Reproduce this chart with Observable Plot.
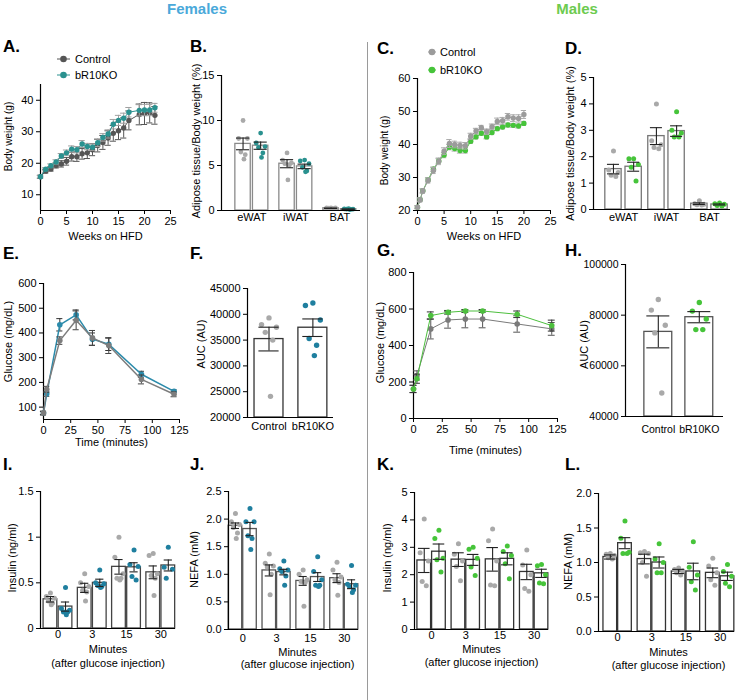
<!DOCTYPE html>
<html><head><meta charset="utf-8">
<script src="https://cdn.jsdelivr.net/npm/d3@7"></script>
<script src="https://cdn.jsdelivr.net/npm/@observablehq/plot@0.6"></script>
<style>
body{margin:0;background:#fff;font-family:'Liberation Sans',Arial,Helvetica,sans-serif;}
#fig{position:relative;width:740px;height:700px;overflow:hidden;background:#fff;}
.t{position:absolute;white-space:nowrap;color:#000;}
</style></head>
<body><div id="fig"></div>
<script>
// ---------------- DATA ----------------
// A. Females body weight
const weeksA = [0,1,2,3,4,5,6,7,8,9,10,11,12,13,14,15,16,17,19,20,21,22];
const ctrlA = [15.7,17.5,18.2,19.3,19.8,20.6,22.1,22.1,23.0,23.3,24.3,25.6,26.6,28.0,29.5,30.3,31.2,33.6,35.5,35.8,36.0,35.2];
const ctrlA_sem = [0.5,0.6,0.7,0.8,1.0,1.2,1.4,1.5,1.7,1.8,1.9,2.0,2.2,2.3,2.5,2.8,3.2,3.0,3.3,3.5,3.2,2.8];
const koA = [15.7,18.1,19.2,20.4,22.3,23.3,24.5,24.3,26.1,25.3,25.1,26.5,28.2,29.3,32.4,33.6,34.3,36.2,36.8,36.9,36.9,37.6];
const koA_sem = [0.4,0.5,0.6,0.7,0.8,0.9,1.0,1.0,1.1,1.0,1.0,1.2,1.2,1.3,1.5,1.6,1.6,1.5,1.8,1.8,1.8,1.4];

// C. Males body weight
const weeksC = [0,0.5,1,2,3,4,5,6,7,8,9,10,11,12,13,14,15,16,17,18,19,20];
const ctrlC = [21.0,23.2,25.9,29.1,32.1,34.9,38.0,40.3,40.0,39.7,39.6,42.5,44.1,45.1,43.9,45.4,47.0,47.2,48.4,48.0,47.9,49.1];
const ctrlC_sem = [0.5,0.6,0.7,0.8,0.9,1.0,1.0,1.2,1.0,1.0,1.0,0.9,0.8,0.7,0.8,0.8,1.0,1.0,1.0,1.0,1.1,1.2];
const koC = [21.0,23.3,26.0,29.3,32.5,35.0,36.8,39.2,38.8,38.2,38.2,41.0,42.3,43.4,42.3,43.6,44.8,45.3,45.9,45.8,45.6,46.4];
const koC_sem = [0.4,0.5,0.5,0.6,0.7,0.7,0.8,0.8,0.8,0.8,0.8,0.7,0.6,0.6,0.6,0.6,0.6,0.6,0.6,0.6,0.6,0.6];

// B. Females adipose tissue
const tissues = ["eWAT","iWAT","BAT"];
const ctrlB = [7.4,5.2,0.25], ctrlB_sem = [0.65,0.45,0.02];
const ctrlB_pts = [[10.0,8.0,8.0,6.5,6.2,5.7],[6.4,5.6,5.3,5.2,5.0,3.4],[0.3,0.3,0.28,0.25,0.2,0.2]];
const koB = [7.2,4.9,0.15], koB_sem = [0.4,0.25,0.02];
const koB_pts = [[8.6,7.5,7.1,7.0,6.4,5.9],[5.6,5.5,5.2,4.8,4.4,4.3],[0.2,0.18,0.15,0.15,0.12,0.1]];

// D. Males adipose tissue
const ctrlD = [1.53,2.78,0.22], ctrlD_sem = [0.18,0.32,0.03];
const ctrlD_pts = [[2.22,1.5,1.4,1.3,1.25],[4.0,2.6,2.45,2.35,2.3],[0.33,0.22,0.2,0.18,0.17]];
const koD = [1.62,2.97,0.19], koD_sem = [0.17,0.2,0.02];
const koD_pts = [[1.92,1.92,1.7,1.6,1.08],[3.7,3.0,2.9,2.75,2.75],[0.25,0.22,0.2,0.15,0.13]];

// E. Females GTT
const timeE = [0,3,15,30,45,60,90,120];
const ctrlE = [76,172,369,451,380,349,212,152];
const ctrlE_sem = [8,12,15,38,30,32,18,10];
const koE = [76,154,433,473,375,354,233,164];
const koE_sem = [6,10,25,20,25,25,12,6];

// G. Males GTT
const timeG = [0,3,15,30,45,60,90,120];
const ctrlG = [162,236,491,540,545,545,518,491];
const ctrlG_sem = [20,25,55,45,48,48,45,35];
const koG = [162,218,564,582,589,589,571,509];
const koG_sem = [20,25,20,10,8,8,18,30];

// F / H. AUC
const genotypes = ["Control","bR10KO"];
const aucF = [35200,37400], aucF_sem = [2300,1700];
const aucF_pts = [[39300,38000,37500,36500,35000,24100],[42200,41700,38900,35300,34000,32000]];
const aucH = [73400,79200], aucH_sem = [6300,2200];
const aucH_pts = [[86200,82000,76000,73000,49300],[85000,81600,78500,74300,74300]];

// I-L. Insulin / NEFA after glucose injection
const minutes = ["0","3","15","30"];
const ctrlI = [0.32,0.445,0.675,0.615], ctrlI_sem = [0.03,0.05,0.08,0.07];
const ctrlI_pts = [[0.39,0.35,0.33,0.30,0.28,0.26],[0.6,0.5,0.46,0.42,0.4,0.3],[1.0,0.78,0.6,0.55,0.55,0.53],[0.82,0.8,0.6,0.58,0.55,0.36]];
const koI = [0.24,0.5,0.67,0.69], koI_sem = [0.05,0.04,0.05,0.06];
const koI_pts = [[0.45,0.22,0.2,0.18,0.18,0.15],[0.64,0.5,0.49,0.47,0.46,0.45],[0.86,0.7,0.68,0.57,0.53],[0.89,0.67,0.65,0.55]];

const ctrlJ = [1.88,1.07,0.88,0.93], ctrlJ_sem = [0.05,0.1,0.08,0.08];
const ctrlJ_pts = [[2.1,1.95,1.9,1.85,1.75,1.65],[1.37,1.2,1.15,1.13,1.0,0.63],[1.08,1.0,0.9,0.87,0.85,0.42],[1.22,1.08,0.95,0.9,0.85,0.62]];
const koJ = [1.82,1.04,0.95,0.82], koJ_sem = [0.12,0.05,0.08,0.08];
const koJ_pts = [[2.19,1.95,1.95,1.7,1.65,1.45],[1.24,1.1,1.08,1.05,0.97,0.8],[1.32,1.05,0.9,0.8,0.8,0.78],[1.16,0.82,0.8,0.78,0.72,0.67]];

const ctrlK = [2.52,2.55,2.56,2.1], ctrlK_sem = [0.44,0.25,0.43,0.28];
const ctrlK_pts = [[4.03,2.8,2.5,1.75,1.6],[3.13,2.75,2.5,2.3,1.78],[3.67,3.24,2.5,1.62,1.6],[2.9,2.35,2.0,1.5,1.4]];
const koK = [2.84,2.54,2.58,2.05], koK_sem = [0.28,0.2,0.22,0.15];
const koK_pts = [[3.62,3.32,2.6,2.55,2.1],[3.0,2.93,2.6,2.28,1.97],[3.05,2.85,2.7,2.4,1.85],[2.37,2.33,2.0,1.7,1.67]];

const ctrlL = [1.08,1.05,0.87,0.85], ctrlL_sem = [0.03,0.07,0.03,0.07];
const ctrlL_pts = [[1.13,1.12,1.1,1.07,1.05],[1.16,1.14,1.13,1.0,0.8],[0.92,0.9,0.88,0.85,0.82],[1.06,0.95,0.85,0.75,0.67]];
const koL = [1.28,1.0,0.87,0.8], koL_sem = [0.08,0.08,0.12,0.06];
const koL_pts = [[1.6,1.35,1.15,1.13,1.13],[1.27,1.05,1.0,0.85,0.85],[1.3,0.93,0.82,0.72,0.6],[0.97,0.87,0.8,0.7,0.65]];

// ---------------- HELPERS ----------------
const FONT = "'Liberation Sans', Arial, Helvetica, sans-serif";
const fig = document.getElementById("fig");
const JIT = [0, -1, 1, -0.5, 0.5, 0.2];

function mount(svg, left, top) {
  svg.style.position = "absolute";
  svg.style.left = left + "px";
  svg.style.top = top + "px";
  svg.style.overflow = "visible";
  svg.style.background = "transparent";
  svg.style.maxWidth = "none";
  fig.appendChild(svg);
}
function addText(txt, x, y, o = {}) {
  const d = document.createElement("div");
  d.className = "t";
  const fs = o.size || 11, lh = Math.round(fs * 1.1);
  d.textContent = txt;
  d.style.fontSize = fs + "px";
  d.style.lineHeight = lh + "px";
  d.style.top = (y - lh / 2) + "px";
  d.style.left = x + "px";
  if (o.bold) d.style.fontWeight = "bold";
  if (o.color) d.style.color = o.color;
  if (o.center) d.style.transform = "translateX(-50%)";
  fig.appendChild(d);
}
function legendItem(x0, x1, cx, y, color, label, tx) {
  const ns = "http://www.w3.org/2000/svg";
  const s = document.createElementNS(ns, "svg");
  s.setAttribute("width", 20); s.setAttribute("height", 10);
  s.style.position = "absolute"; s.style.left = (x0 - 2) + "px"; s.style.top = (y - 5) + "px";
  const l = document.createElementNS(ns, "line");
  l.setAttribute("x1", 2); l.setAttribute("x2", 2 + x1 - x0); l.setAttribute("y1", 5); l.setAttribute("y2", 5);
  l.setAttribute("stroke", color); l.setAttribute("stroke-width", 1);
  const c = document.createElementNS(ns, "circle");
  c.setAttribute("cx", 2 + cx - x0); c.setAttribute("cy", 5); c.setAttribute("r", 3.3); c.setAttribute("fill", color);
  s.appendChild(l); s.appendChild(c); fig.appendChild(s);
  addText(label, tx, y);
}
function labelMarks(cfg) {
  const m = [];
  if (cfg.yLabel) m.push(Plot.text([cfg.yLabel], {frameAnchor: "left", rotate: -90, dx: -cfg.yOff, dy: cfg.yDy || 0,
    text: d => d, fontSize: cfg.yFs || 11, textAnchor: "middle", lineAnchor: "middle"}));
  (cfg.xLabels || []).forEach(([t, off]) => m.push(Plot.text([t], {frameAnchor: "bottom", dy: off, dx: cfg.xDx || 0,
    text: d => d, fontSize: 11, textAnchor: "middle", lineAnchor: "middle"})));
  return m;
}
function makePlot(cfg, marks, ml, mr, mt, mb) {
  const f = cfg.frame;
  const W = ml + (f.R - f.L) + mr, H = mt + (f.B - f.T) + mb;
  const svg = Plot.plot({
    width: W, height: H, marginLeft: ml, marginRight: mr, marginTop: mt, marginBottom: mb,
    x: {domain: cfg.xDomain}, y: {domain: cfg.yDomain},
    style: {fontFamily: FONT, fontSize: "11px", color: "#000", background: "transparent", overflow: "visible"},
    marks
  });
  mount(svg, f.L - ml, f.T - mt);
}
function linePanel(cfg) {
  const marks = [
    Plot.ruleX([cfg.xDomain[0]], {stroke: "#000", strokeWidth: 1.2}),
    Plot.ruleY([cfg.yDomain[0]], {stroke: "#000", strokeWidth: 1.2})
  ];
  for (const s of cfg.series) {
    const rows = s.x.map((x, i) => ({x, m: s.mean[i], e: s.sem[i]}));
    marks.push(Plot.ruleX(rows, {x: "x", y1: d => d.m - d.e, y2: d => d.m + d.e, stroke: s.err, strokeWidth: 1}));
    marks.push(Plot.ruleY(rows, {y: d => d.m + d.e, x1: d => d.x - cfg.cap, x2: d => d.x + cfg.cap, stroke: s.err, strokeWidth: 1}));
    marks.push(Plot.ruleY(rows, {y: d => d.m - d.e, x1: d => d.x - cfg.cap, x2: d => d.x + cfg.cap, stroke: s.err, strokeWidth: 1}));
    marks.push(Plot.line(rows, {x: "x", y: "m", stroke: s.color, strokeWidth: s.lw || 1}));
    marks.push(Plot.dot(rows, {x: "x", y: "m", fill: s.color, r: cfg.r}));
  }
  marks.push(Plot.axisY(cfg.yTicks, {tickSize: 4, tickPadding: 3, tickFormat: cfg.yFmt || d3.format("d"), label: null}));
  marks.push(Plot.axisX(cfg.xTicks, {tickSize: 4, tickPadding: 3, tickFormat: d3.format("d"), label: null}));
  marks.push(...labelMarks(cfg));
  makePlot(cfg, marks, 50, 10, 8, 45);
}
function pairBars(n, cm, cs, cp, km, ks, kp, cdot, kdot) {
  const out = [];
  for (let i = 0; i < n; i++) {
    out.push({c: i, side: -1, m: cm[i], e: cs[i], pts: cp[i], dot: cdot});
    out.push({c: i, side: 1, m: km[i], e: ks[i], pts: kp[i], dot: kdot});
  }
  return out;
}
function barPanel(cfg) {
  const y0 = cfg.yDomain[0];
  const bars = cfg.bars.map(b => ({...b, cx: b.c + b.side * cfg.off}));
  const marks = [
    Plot.rect(bars, {x1: d => d.cx - cfg.hw, x2: d => d.cx + cfg.hw, y1: () => y0, y2: "m",
      fill: "white", stroke: cfg.barStroke, strokeWidth: 1.3})
  ];
  for (const b of bars) {
    const pts = b.pts.map((v, k) => ({x: b.cx + JIT[k % JIT.length] * cfg.spread, v}));
    marks.push(Plot.dot(pts, {x: "x", y: "v", fill: b.dot, r: cfg.r || 2.5}));
  }
  const ec = "#222";
  marks.push(Plot.ruleX(bars, {x: "cx", y1: d => d.m - d.e, y2: d => d.m + d.e, stroke: ec, strokeWidth: 1.1}));
  marks.push(Plot.ruleY(bars, {y: d => d.m + d.e, x1: d => d.cx - cfg.cap, x2: d => d.cx + cfg.cap, stroke: ec, strokeWidth: 1.1}));
  marks.push(Plot.ruleY(bars, {y: d => d.m - d.e, x1: d => d.cx - cfg.cap, x2: d => d.cx + cfg.cap, stroke: ec, strokeWidth: 1.1}));
  marks.push(Plot.ruleX([cfg.xDomain[0]], {stroke: "#000", strokeWidth: 1.2}));
  marks.push(Plot.ruleY([y0], {stroke: "#000", strokeWidth: 1.2}));
  const fs = cfg.tickFs || 11;
  marks.push(Plot.axisY(cfg.yTicks, {tickSize: 4, tickPadding: 3, tickFormat: cfg.yFmt || d3.format("d"), label: null, fontSize: fs}));
  marks.push(Plot.axisX(d3.range(cfg.cats.length), {tickSize: 0, tickPadding: cfg.xPad, tickFormat: i => cfg.cats[i], label: null, fontSize: fs}));
  marks.push(...labelMarks(cfg));
  makePlot(cfg, marks, 60, 8, 8, 50);
}

// ---------------- TEXT / DECOR ----------------
addText("Females", 197, 8, {size: 15, bold: true, color: "#4aa9da", center: true});
addText("Males", 577, 8, {size: 15, bold: true, color: "#6dcb4f", center: true});
const divider = document.createElement("div");
divider.style.cssText = "position:absolute;left:367px;top:42px;width:1px;height:660px;background:#9a9a9a;";
fig.appendChild(divider);

const letters = [["A.",3,46],["B.",190,46],["C.",377,48],["D.",565,48],["E.",3,253],["F.",190,253],
                 ["G.",377,250],["H.",565,250],["I.",3,464],["J.",190,464],["K.",377,464],["L.",565,464]];
letters.forEach(([t, x, y]) => addText(t, x, y, {size: 17, bold: true}));

const F_CTRL = "#a9a9a9", F_KO_TEAL = "#2a918f", F_KO_BLUE = "#1f7f9f", M_KO = "#46c43a";

// ---------------- PANELS ----------------
// A
linePanel({
  frame: {L: 40, R: 170, T: 84, B: 210}, xDomain: [0, 25], yDomain: [5, 45],
  xTicks: [0,5,10,15,20,25], yTicks: [10,20,30,40], cap: 0.6, r: 2.7,
  yLabel: "Body weight (g)", yFs: 10, yOff: 32, yDy: -11, xLabels: [["Weeks on HFD", 26]],
  series: [
    {x: weeksA, mean: ctrlA, sem: ctrlA_sem, color: "#555555", err: "#555555"},
    {x: weeksA, mean: koA, sem: koA_sem, color: F_KO_TEAL, err: "#a0a0a0"}
  ]
});
legendItem(57, 70, 63.5, 59, "#555555", "Control", 75);
legendItem(57, 70, 63.5, 75, F_KO_TEAL, "bR10KO", 75);

// C
linePanel({
  frame: {L: 417, R: 550, T: 78, B: 210}, xDomain: [0, 25], yDomain: [20, 60],
  xTicks: [0,5,10,15,20,25], yTicks: [20,30,40,50,60], cap: 0.5, r: 2.7,
  yLabel: "Body weight (g)", yFs: 10, yOff: 33, yDy: 6, xLabels: [["Weeks on HFD", 26]],
  series: [
    {x: weeksC, mean: koC, sem: koC_sem, color: M_KO, err: "#aaaaaa"},
    {x: weeksC, mean: ctrlC, sem: ctrlC_sem, color: "#9b9b9b", err: "#aaaaaa"}
  ]
});
legendItem(428, 436, 432, 52, "#9b9b9b", "Control", 440);
legendItem(428, 436, 432, 70, M_KO, "bR10KO", 440);

// B
barPanel({
  frame: {L: 221, R: 360, T: 75, B: 210}, xDomain: [-0.69, 2.47], yDomain: [0, 15],
  cats: tissues, yTicks: [0,5,10,15], off: 0.2, hw: 0.175, spread: 0.1, cap: 0.15, r: 2.4, xPad: 3,
  barStroke: "#8a8a8a", yLabel: "Adipose tissue/Body weight (%)", yOff: 25, yDy: -2,
  bars: pairBars(3, ctrlB, ctrlB_sem, ctrlB_pts, koB, koB_sem, koB_pts, F_CTRL, F_KO_TEAL)
});

// D
barPanel({
  frame: {L: 593, R: 730, T: 77, B: 209}, xDomain: [-0.7, 2.49], yDomain: [0, 5],
  cats: tissues, yTicks: [0,1,2,3,4,5], off: 0.235, hw: 0.19, spread: 0.11, cap: 0.14, r: 2.5, xPad: 4,
  barStroke: "#777777", yLabel: "Adipose tissue/Body weight (%)", yOff: 23, yDy: 0,
  bars: pairBars(3, ctrlD, ctrlD_sem, ctrlD_pts, koD, koD_sem, koD_pts, F_CTRL, M_KO)
});

// E
linePanel({
  frame: {L: 43, R: 179, T: 283, B: 419}, xDomain: [0, 125], yDomain: [50, 600],
  xTicks: [0,25,50,75,100,125], yTicks: [100,200,300,400,500,600], cap: 2.8, r: 2.8,
  yLabel: "Glucose (mg/dL)", yOff: 35, yDy: -10, xLabels: [["Time (minutes)", 23]],
  series: [
    {x: timeE, mean: koE, sem: koE_sem, color: "#2b8bab", err: "#333333", lw: 1.5},
    {x: timeE, mean: ctrlE, sem: ctrlE_sem, color: "#7d7d7d", err: "#444444", lw: 1.5}
  ]
});

// F
barPanel({
  frame: {L: 247, R: 333, T: 288, B: 417}, xDomain: [-0.49, 1.47], yDomain: [20000, 45000],
  cats: genotypes, yTicks: [20000,25000,30000,35000,40000,45000], off: 0, hw: 0.33, spread: 0.17, cap: 0.23, r: 2.7, xPad: 5,
  barStroke: "#333333", yLabel: "AUC (AU)", yOff: 46, yDy: -9,
  bars: [{c: 0, side: 0, m: aucF[0], e: aucF_sem[0], pts: aucF_pts[0], dot: F_CTRL},
         {c: 1, side: 0, m: aucF[1], e: aucF_sem[1], pts: aucF_pts[1], dot: F_KO_BLUE}]
});

// G
linePanel({
  frame: {L: 413, R: 557, T: 272, B: 418}, xDomain: [0, 125], yDomain: [0, 800],
  xTicks: [0,25,50,75,100,125], yTicks: [0,200,400,600,800], cap: 3, r: 2.8,
  yLabel: "Glucose (mg/dL)", yOff: 33, yDy: -3, xLabels: [["Time (minutes)", 32]],
  series: [
    {x: timeG, mean: ctrlG, sem: ctrlG_sem, color: "#7a7a7a", err: "#555555"},
    {x: timeG, mean: koG, sem: koG_sem, color: "#4dbf3e", err: "#333333"}
  ]
});

// H
barPanel({
  frame: {L: 625, R: 723, T: 264, B: 416}, xDomain: [-0.8, 1.59], yDomain: [40000, 100000],
  cats: genotypes, yTicks: [40000,60000,80000,100000], off: 0, hw: 0.34, spread: 0.17, cap: 0.28, r: 2.7, xPad: 9,
  tickFs: 10.5, barStroke: "#555555", yLabel: "AUC (AU)", yOff: 41, yDy: 4,
  bars: [{c: 0, side: 0, m: aucH[0], e: aucH_sem[0], pts: aucH_pts[0], dot: F_CTRL},
         {c: 1, side: 0, m: aucH[1], e: aucH_sem[1], pts: aucH_pts[1], dot: M_KO}]
});

// I
barPanel({
  frame: {L: 40, R: 175, T: 491, B: 628}, xDomain: [-0.51, 3.43], yDomain: [0, 1.5],
  cats: minutes, yTicks: [0,0.5,1,1.5], yFmt: d => String(d), off: 0.22, hw: 0.2, spread: 0.12, cap: 0.12, r: 2.5, xPad: 2,
  barStroke: "#444444", yLabel: "Insulin (ng/ml)", yOff: 28, yDy: -2,
  xLabels: [["Minutes", 21], ["(after glucose injection)", 35]],
  bars: pairBars(4, ctrlI, ctrlI_sem, ctrlI_pts, koI, koI_sem, koI_pts, F_CTRL, F_KO_BLUE)
});

// J
barPanel({
  frame: {L: 228, R: 358, T: 491, B: 629}, xDomain: [-0.42, 3.42], yDomain: [0, 2.5],
  cats: minutes, yTicks: [0,0.5,1,1.5,2,2.5], yFmt: d3.format(".1f"), off: 0.215, hw: 0.2, spread: 0.12, cap: 0.12, r: 2.5, xPad: 5,
  barStroke: "#555555", yLabel: "NEFA (mM)", yOff: 34, yDy: -1, xDx: 4,
  xLabels: [["Minutes", 23], ["(after glucose injection)", 35]],
  bars: pairBars(4, ctrlJ, ctrlJ_sem, ctrlJ_pts, koJ, koJ_sem, koJ_pts, F_CTRL, F_KO_BLUE)
});

// K
barPanel({
  frame: {L: 414, R: 548, T: 492, B: 629}, xDomain: [-0.5, 3.42], yDomain: [0, 5],
  cats: minutes, yTicks: [0,1,2,3,4,5], off: 0.215, hw: 0.2, spread: 0.12, cap: 0.17, r: 2.5, xPad: 2,
  barStroke: "#333333", yLabel: "Insulin (ng/ml)", yOff: 27, yDy: -3,
  xLabels: [["Minutes", 20], ["(after glucose injection)", 33]],
  bars: pairBars(4, ctrlK, ctrlK_sem, ctrlK_pts, koK, koK_sem, koK_pts, F_CTRL, M_KO)
});

// L
barPanel({
  frame: {L: 598, R: 734, T: 493, B: 631}, xDomain: [-0.56, 3.42], yDomain: [0, 2],
  cats: minutes, yTicks: [0,0.5,1,1.5,2], yFmt: d3.format(".1f"), off: 0.215, hw: 0.2, spread: 0.12, cap: 0.17, r: 2.5, xPad: 2,
  barStroke: "#333333", yLabel: "NEFA (mM)", yOff: 30, yDy: -1, xDx: 2,
  xLabels: [["Minutes", 21], ["(after glucose injection)", 34]],
  bars: pairBars(4, ctrlL, ctrlL_sem, ctrlL_pts, koL, koL_sem, koL_pts, F_CTRL, M_KO)
});
</script>
</body></html>
